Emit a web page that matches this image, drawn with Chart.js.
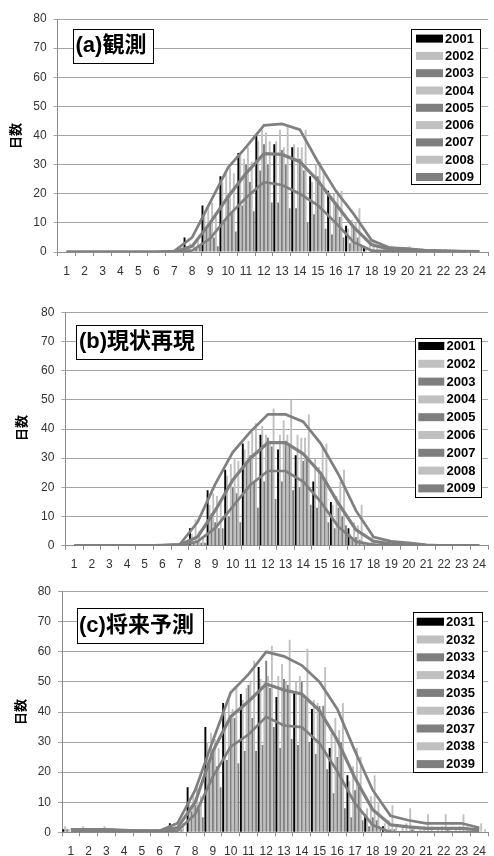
<!DOCTYPE html>
<html>
<head>
<meta charset="utf-8">
<script src="https://cdn.jsdelivr.net/npm/chart.js@4.4.1/dist/chart.umd.min.js"></script>
<style>
  html, body { margin: 0; padding: 0; background: #ffffff; }
  body { width: 494px; height: 856px; position: relative; overflow: hidden; }
  canvas { position: absolute; left: 0; }
</style>
</head>
<body>
<canvas id="chartA" width="494" height="285" style="top:0px"></canvas>
<canvas id="chartB" width="494" height="285" style="top:285px"></canvas>
<canvas id="chartC" width="494" height="286" style="top:570px"></canvas>
<script>
// Hour of day (category labels, shared by all three panels)
const hours = ['1','2','3','4','5','6','7','8','9','10','11','12','13','14','15','16','17','18','19','20','21','22','23','24'];

// ---- (a) 観測: days per hour, 2001-2009 ----
const obsYears = ['2001','2002','2003','2004','2005','2006','2007','2008','2009'];
const obs2001 = [0,0,0,0,0,0,0,5,16,26,34,40,37,36,26,21,9,2,0,0,0,0,0,0];
const obs2002 = [0,0,0,0,0,0,0,2,13,24,34,38,38,37,24,19,8,1,1,0,0,0,0,0];
const obs2003 = [0,0,0,0,0,0,0,1,8,10,16,28,17,15,13,6,3,0,0,0,0,0,0,0];
const obs2004 = [0,0,0,0,0,0,0,3,15,27,32,42,42,36,30,20,11,3,1,1,0,0,0,0];
const obs2005 = [0,0,0,0,0,0,0,0,10,19,30,37,35,32,26,16,8,1,0,0,0,0,0,0];
const obs2006 = [0,0,0,0,0,0,0,2,17,29,36,41,36,36,31,21,10,4,2,2,1,1,0,0];
const obs2007 = [0,0,0,0,0,0,0,1,5,14,24,30,30,28,22,12,5,0,0,0,0,0,0,0];
const obs2008 = [0,0,0,0,0,0,0,4,12,27,31,38,43,42,28,21,15,2,1,0,0,0,0,0];
const obs2009 = [0,0,0,0,0,0,0,2,2,7,14,17,15,10,8,5,2,0,0,0,0,0,0,0];
const obsUpper = [0,0,0,0,0,0,0.3,5,17,29,36,43.5,44,42,31,21,13,4,1.5,1.2,0.6,0.4,0.2,0.2];
const obsMean  = [0,0,0,0,0,0,0.1,2,10,19,27,33.8,33.5,31,24.5,16.5,8.5,2.5,1,0.8,0.5,0.3,0.2,0.1];
const obsLower = [0,0,0,0,0,0,0,0.5,4.6,12.3,18.6,24,23,20,16,10,3.4,0.5,0.3,0.2,0.1,0,0,0];

// ---- (b) 現状再現: days per hour, 2001-2009 ----
const simYears = ['2001','2002','2003','2004','2005','2006','2007','2008','2009'];
const sim2001 = [0,0,0,0,0,0,0,6,19,26,35,38,33,31,22,15,6,0,0,0,0,0,0,0];
const sim2002 = [0,0,0,0,0,0,0,4,14,24,33,41,38,38,30,14,4,1,0,0,0,0,0,0];
const sim2003 = [0,0,0,0,0,0,0,1,11,10,28,22,22,20,13,6,2,0,0,0,0,0,0,0];
const sim2004 = [0,0,0,0,0,0,0,9,18,28,36,38,43,37,27,17,8,3,1,1,0,0,0,0];
const sim2005 = [0,0,0,0,0,0,0,2,8,20,31,37,36,29,24,13,3,1,0,0,0,0,0,0];
const sim2006 = [0,0,0,0,0,0,0,5,17,30,39,36,38,37,34,22,7,2,1,0,0,0,0,0];
const sim2007 = [0,0,0,0,0,0,0,1,6,18,22,34,35,30,22,10,2,0,0,0,0,0,0,0];
const sim2008 = [0,0,0,0,0,0,0,3,15,29,42,47,50,45,35,26,14,1,0,0,0,0,0,0];
const sim2009 = [0,0,0,0,0,0,0,1,6,8,13,16,19,14,8,7,1,0,0,0,0,0,0,0];
const simUpper = [0,0,0,0,0,0.2,0.5,8,21,32,39,45,45,42.5,35,24.5,12,3,1.5,1,0.3,0,0,0];
const simMean  = [0,0,0,0,0,0,0.3,3,12,22.5,30,35.3,35.3,31.5,24.8,14.5,5.4,1.5,0.6,0.4,0.1,0,0,0];
const simLower = [0,0,0,0,0,0,0,1.4,6,13.4,20.8,25.6,25.6,22,15,6.5,1.4,0.3,0,0,0,0,0,0];

// ---- (c) 将来予測: days per hour, 2031-2039 ----
const futYears = ['2031','2032','2033','2034','2035','2036','2037','2038','2039'];
const fut2031 = [1,1,0,0,0,0,3,15,35,43,46,55,45,47,41,28,19,6,2,0,0,0,0,0];
const fut2032 = [2,2,1,1,1,0,2,11,30,40,44,51,52,50,44,33,17,8,3,2,1,1,1,0];
const fut2033 = [1,1,1,0,0,1,1,7,24,24,27,29,28,29,26,13,5,2,0,0,0,0,0,0];
const fut2034 = [1,1,2,1,1,1,2,13,33,44,48,50,56,52,43,38,22,12,4,3,2,2,2,1];
const fut2035 = [0,1,1,1,0,0,0,9,27,38,49,57,51,50,42,25,14,5,1,0,0,0,0,0];
const fut2036 = [1,0,1,0,1,1,1,15,31,41,50,52,50,45,40,34,28,19,9,8,6,6,6,3];
const fut2037 = [0,1,0,1,1,0,1,8,22,38,38,48,49,44,42,30,16,4,1,1,0,1,0,0];
const fut2038 = [1,1,1,0,0,1,3,12,28,48,57,62,64,61,55,43,25,10,2,2,2,1,2,1];
const fut2039 = [1,0,0,1,0,0,0,5,15,23,27,35,31,30,21,8,4,1,0,0,0,0,0,0];
const futUpper = [1,1,1,0.7,0.5,0.5,3,14,30.5,46.5,52.5,60,58.5,55.5,50,41,27,14,5.5,4,3,3,3,1.5];
const futMean  = [0.8,0.8,0.8,0.5,0.5,0.5,1.5,10,27,38.5,43.5,49.3,47.3,46,40.5,30.7,18,7.5,2.5,1.8,1.3,1.3,1.3,0.8];
const futLower = [0.3,0.3,0.3,0.2,0.2,0.2,0.5,6,18.5,28.5,32.5,38.4,35.5,35,29.6,20.3,9.6,2.4,0,0,0,0,0,0];

// Bar fill per year position: first year black, then alternating light / dark grey
const barColors = ['#000000','#c0c0c0','#7f7f7f','#c0c0c0','#7f7f7f','#c0c0c0','#7f7f7f','#c0c0c0','#7f7f7f'];
const lineColor = '#808080';

const tickFont = { family: "'Liberation Sans', Arial, sans-serif", size: 12 };
const cjkBold = "'Liberation Sans', 'Noto Sans CJK JP', sans-serif";

// Panel decorations: title box, in-plot legend box and rotated axis title
const panelDecor = {
  id: 'panelDecor',
  afterDraw(chart, args, o) {
    const ctx = chart.ctx;
    ctx.save();
    // title box
    ctx.fillStyle = '#ffffff';
    ctx.fillRect(o.title.x, o.title.y, o.title.w, o.title.h);
    ctx.strokeStyle = '#000000';
    ctx.lineWidth = 1;
    ctx.strokeRect(Math.round(o.title.x) + 0.5, Math.round(o.title.y) + 0.5, Math.round(o.title.w), Math.round(o.title.h));
    ctx.fillStyle = '#000000';
    ctx.font = 'bold 22px ' + cjkBold;
    ctx.textAlign = 'left';
    ctx.textBaseline = 'middle';
    ctx.fillText(o.title.text, o.title.tx, o.title.ty);

    // legend box with the bar series
    const L = o.legend;
    ctx.fillStyle = '#ffffff';
    ctx.fillRect(L.x, L.y, L.w, L.h);
    ctx.strokeStyle = '#000000';
    ctx.strokeRect(Math.round(L.x) + 0.5, Math.round(L.y) + 0.5, Math.round(L.w), Math.round(L.h));
    ctx.font = 'bold 13px ' + cjkBold;
    ctx.textBaseline = 'middle';
    const bars = chart.data.datasets.filter(d => d.type === 'bar');
    bars.forEach((d, i) => {
      const cy = L.row0 + i * L.step;
      ctx.fillStyle = d.backgroundColor;
      ctx.fillRect(L.sx, cy - 4, L.sw, 8);
      ctx.fillStyle = '#000000';
      ctx.fillText(d.label, L.tx, cy + 0.5);
    });

    // rotated y-axis title
    ctx.translate(o.axis.x, o.axis.y);
    ctx.rotate(-Math.PI / 2);
    ctx.font = 'bold 13px ' + cjkBold;
    ctx.textAlign = 'center';
    ctx.textBaseline = 'middle';
    ctx.fillStyle = '#000000';
    ctx.fillText('日数', 0, 0);
    ctx.restore();
  }
};

function buildChart(canvasId, years, barSeries, upper, mean, lower, geom, decor) {
  const datasets = [
    { type: 'line', label: '+σ', data: upper, borderColor: lineColor, borderWidth: 2.7, pointRadius: 0, tension: 0, fill: false, order: 0 },
    { type: 'line', label: '平均', data: mean, borderColor: lineColor, borderWidth: 3.2, pointRadius: 0, tension: 0, fill: false, order: 0 },
    { type: 'line', label: '-σ', data: lower, borderColor: lineColor, borderWidth: 2.7, pointRadius: 0, tension: 0, fill: false, order: 0 }
  ];
  barSeries.forEach((vals, i) => {
    datasets.push({
      type: 'bar', label: years[i], data: vals,
      backgroundColor: barColors[i], borderWidth: 0,
      categoryPercentage: 0.96, barPercentage: 1.0, order: 1
    });
  });

  return new Chart(document.getElementById(canvasId), {
    type: 'bar',
    data: { labels: hours, datasets },
    options: {
      responsive: false,
      animation: false,
      devicePixelRatio: 1,
      events: [],
      layout: { padding: { top: geom.top, right: geom.right, left: 0, bottom: 0 } },
      plugins: {
        legend: { display: false },
        tooltip: { enabled: false },
        panelDecor: decor
      },
      scales: {
        x: {
          offset: true,
          grid: { offset: true, drawOnChartArea: false, drawTicks: true, tickLength: 4, color: '#8c8c8c' },
          border: { color: '#8c8c8c', width: 1 },
          ticks: { autoSkip: false, maxRotation: 0, minRotation: 0, padding: 8, color: '#333333', font: tickFont },
          afterFit: s => { s.height = geom.xh; }
        },
        y: {
          min: 0, max: 80,
          ticks: { stepSize: 10, padding: 7, color: '#333333', font: tickFont },
          grid: { color: '#a6a6a6', lineWidth: 1, tickLength: 4 },
          border: { color: '#8c8c8c', width: 1 },
          afterFit: s => { s.width = geom.yw; }
        }
      }
    },
    plugins: [panelDecor]
  });
}

buildChart('chartA', obsYears,
  [obs2001, obs2002, obs2003, obs2004, obs2005, obs2006, obs2007, obs2008, obs2009],
  obsUpper, obsMean, obsLower,
  { top: 19, right: 0, xh: 33, yw: 57.6 },
  { title: { text: '(a)観測', x: 73, y: 29, w: 80, h: 34, tx: 75.5, ty: 46 },
    legend: { x: 411, y: 29.3, w: 69, h: 154.7, row0: 38.6, step: 17.3, sx: 416, sw: 27, tx: 445 },
    axis: { x: 16, y: 136 } });

buildChart('chartB', simYears,
  [sim2001, sim2002, sim2003, sim2004, sim2005, sim2006, sim2007, sim2008, sim2009],
  simUpper, simMean, simLower,
  { top: 27.3, right: 2.4, xh: 24.3, yw: 65.4 },
  { title: { text: '(b)現状再現', x: 76, y: 40, w: 126, h: 34, tx: 79, ty: 57 },
    legend: { x: 415, y: 52.7, w: 65.7, h: 159, row0: 61, step: 17.8, sx: 418.3, sw: 26, tx: 446.5 },
    axis: { x: 22, y: 143 } });

buildChart('chartC', futYears,
  [fut2031, fut2032, fut2033, fut2034, fut2035, fut2036, fut2037, fut2038, fut2039],
  futUpper, futMean, futLower,
  { top: 21.7, right: 0.7, xh: 23.7, yw: 62 },
  { title: { text: '(c)将来予測', x: 77, y: 38, w: 126, h: 35, tx: 79, ty: 55.5 },
    legend: { x: 412.7, y: 42.3, w: 69, h: 160.4, row0: 51.7, step: 17.8, sx: 416.7, sw: 27.3, tx: 446 },
    axis: { x: 21, y: 142 } });
</script>
</body>
</html>
